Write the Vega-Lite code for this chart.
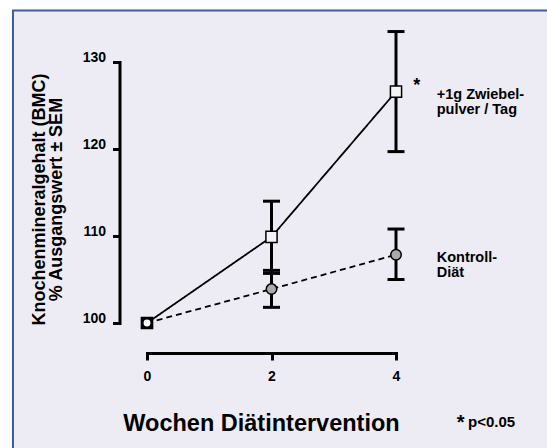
{
  "$schema": "https://vega.github.io/schema/vega-lite/v6.json",
  "width": 249,
  "height": 261,
  "autosize": {"type": "none"},
  "padding": {"left": 147, "top": 62, "right": 151, "bottom": 125},
  "background": "white",
  "config": {
    "font": "Liberation Sans",
    "view": {"stroke": null},
    "axis": {
      "grid": false,
      "domainColor": "black",
      "domainWidth": 3,
      "domainCap": "square",
      "tickColor": "black",
      "tickWidth": 3,
      "tickSize": 7,
      "labelFont": "Liberation Sans",
      "labelFontWeight": "bold",
      "labelFontSize": 14,
      "labelColor": "black",
      "labelFlush": false,
      "titleFont": "Liberation Sans",
      "titleFontWeight": "bold",
      "titleColor": "black"
    }
  },
  "data": {
    "values": [
      {"week": 0, "group": "Zwiebel", "mean": 100},
      {"week": 2, "group": "Zwiebel", "mean": 109.9, "lo": 105.7, "hi": 114.0},
      {"week": 4, "group": "Zwiebel", "mean": 126.6, "lo": 119.7, "hi": 133.5},
      {"week": 0, "group": "Kontroll", "mean": 100},
      {"week": 2, "group": "Kontroll", "mean": 103.9, "lo": 101.8, "hi": 106.05},
      {"week": 4, "group": "Kontroll", "mean": 107.85, "lo": 105.0, "hi": 110.8}
    ]
  },
  "encoding": {
    "x": {
      "field": "week",
      "type": "quantitative",
      "scale": {"domain": [0, 4], "nice": false, "zero": false},
      "axis": {
        "zindex": 2,
        "values": [0, 2, 4],
        "format": "d",
        "offset": 30,
        "labelPadding": 9,
        "title": "Wochen Diätintervention",
        "titleFontSize": 23.5,
        "titleFontWeight": "bold",
        "titleX": 114,
        "titleY": 77,
        "titleBaseline": "alphabetic",
        "titleAlign": "center"
      }
    },
    "y": {
      "field": "mean",
      "type": "quantitative",
      "scale": {"domain": [100, 130], "nice": false, "zero": false},
      "axis": {
        "zindex": 2,
        "values": [100, 110, 120, 130],
        "offset": 27.5,
        "labelOffset": -5,
        "labelPadding": 7,
        "title": ["Knochenmineralgehalt (BMC)", "% Ausgangswert ± SEM"],
        "titleFontSize": 18,
        "titleFontWeight": "bold",
        "titleLineHeight": 17.5,
        "titleAngle": -90,
        "titleX": -80.5,
        "titleY": 137,
        "titleBaseline": "middle",
        "titleAlign": "center"
      }
    }
  },
  "layer": [
    {
      "transform": [{"filter": "datum.week == 0 && datum.group == 'Zwiebel'"}],
      "mark": {"type": "rect", "fill": "#edecf5", "stroke": "#3f5c9c", "strokeWidth": 2},
      "encoding": {
        "x": {"datum": -2.153, "type": "quantitative"},
        "x2": {"datum": 8},
        "y": {"datum": 135.93, "type": "quantitative"},
        "y2": {"datum": 80}
      }
    },
    {
      "transform": [{"filter": "datum.lo != null"}],
      "mark": {"type": "rule", "color": "black", "strokeWidth": 3},
      "encoding": {
        "y": {"field": "lo", "type": "quantitative"},
        "y2": {"field": "hi"}
      }
    },
    {
      "transform": [{"filter": "datum.lo != null"}],
      "mark": {"type": "tick", "orient": "horizontal", "color": "black", "size": 17, "thickness": 3, "opacity": 1},
      "encoding": {"y": {"field": "lo", "type": "quantitative"}}
    },
    {
      "transform": [{"filter": "datum.lo != null"}],
      "mark": {"type": "tick", "orient": "horizontal", "color": "black", "size": 17, "thickness": 3, "opacity": 1},
      "encoding": {"y": {"field": "hi", "type": "quantitative"}}
    },
    {
      "mark": {"type": "line", "color": "black", "strokeWidth": 1.8},
      "encoding": {
        "detail": {"field": "group"},
        "strokeDash": {
          "field": "group",
          "type": "nominal",
          "scale": {"domain": ["Zwiebel", "Kontroll"], "range": [[1, 0], [6, 4]]},
          "legend": null
        }
      }
    },
    {
      "transform": [{"filter": "datum.group == 'Zwiebel'"}],
      "mark": {"type": "point", "shape": "square", "filled": true, "size": 125, "stroke": "black", "strokeWidth": 1.5, "opacity": 1},
      "encoding": {
        "fill": {"condition": {"test": "datum.week == 0", "value": "black"}, "value": "#f4f4f4"}
      }
    },
    {
      "transform": [{"filter": "datum.group == 'Kontroll'"}],
      "mark": {"type": "point", "shape": "circle", "filled": true, "stroke": "black", "strokeWidth": 1.5, "opacity": 1},
      "encoding": {
        "fill": {"condition": {"test": "datum.week == 0", "value": "white"}, "value": "#aaaaaa"},
        "size": {"condition": {"test": "datum.week == 0", "value": 70}, "value": 110}
      }
    },
    {
      "transform": [{"filter": "datum.week == 4 && datum.group == 'Zwiebel'"}],
      "mark": {"type": "text", "text": ["+1g Zwiebel-", "pulver / Tag"], "align": "left", "baseline": "alphabetic", "fontSize": 14.5, "fontWeight": "bold", "lineHeight": 15, "color": "black"},
      "encoding": {
        "x": {"datum": 4.654, "type": "quantitative"},
        "y": {"datum": 125.8, "type": "quantitative"}
      }
    },
    {
      "transform": [{"filter": "datum.week == 4 && datum.group == 'Kontroll'"}],
      "mark": {"type": "text", "text": ["Kontroll-", "Diät"], "align": "left", "baseline": "alphabetic", "fontSize": 14.5, "fontWeight": "bold", "lineHeight": 15, "color": "black"},
      "encoding": {
        "x": {"datum": 4.654, "type": "quantitative"},
        "y": {"datum": 107.0, "type": "quantitative"}
      }
    },
    {
      "transform": [{"filter": "datum.week == 4 && datum.group == 'Zwiebel'"}],
      "mark": {"type": "text", "text": "*", "align": "center", "baseline": "alphabetic", "fontSize": 18, "fontWeight": "bold", "color": "black"},
      "encoding": {
        "x": {"datum": 4.333, "type": "quantitative"},
        "y": {"datum": 126.69, "type": "quantitative"}
      }
    },
    {
      "transform": [{"filter": "datum.week == 4 && datum.group == 'Zwiebel'"}],
      "mark": {"type": "text", "text": "*", "align": "center", "baseline": "alphabetic", "fontSize": 20, "fontWeight": "bold", "color": "black"},
      "encoding": {
        "x": {"datum": 5.039, "type": "quantitative"},
        "y": {"datum": 87.76, "type": "quantitative"}
      }
    },
    {
      "transform": [{"filter": "datum.week == 4 && datum.group == 'Zwiebel'"}],
      "mark": {"type": "text", "text": "p<0.05", "align": "left", "baseline": "alphabetic", "fontSize": 15, "fontWeight": "bold", "color": "black"},
      "encoding": {
        "x": {"datum": 5.157, "type": "quantitative"},
        "y": {"datum": 88.09, "type": "quantitative"}
      }
    }
  ]
}
